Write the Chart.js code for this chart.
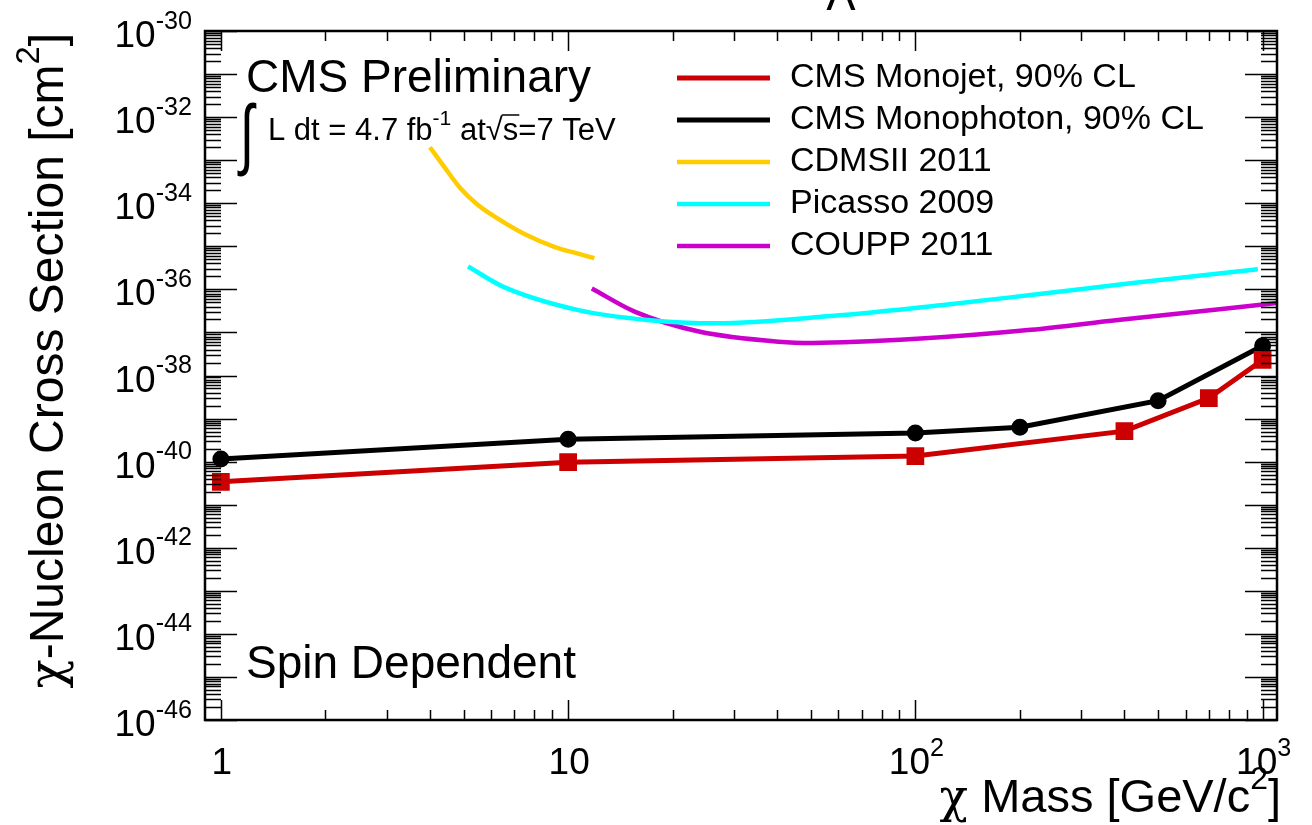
<!DOCTYPE html>
<html>
<head>
<meta charset="utf-8">
<script src="https://cdn.jsdelivr.net/npm/chart.js@4.4.1/dist/chart.umd.min.js"></script>
<style>
  html, body { margin: 0; padding: 0; background: #fff; }
  #wrap { width: 1312px; height: 825px; }
</style>
</head>
<body>
<div id="wrap"><canvas id="chart" width="1312" height="825"></canvas></div>
<script>
// chi mass [GeV/c^2] vs. spin-dependent chi-nucleon cross section limits [cm^2]
const monojetMass = [1, 10, 100, 400, 700, 1000];
const monojetXsec = [3.4e-41, 9.7e-41, 1.35e-40, 5.1e-40, 3.0e-39, 2.3e-38];
const monophotonMass = [1, 10, 100, 200, 500, 1000];
const monophotonXsec = [1.15e-40, 3.3e-40, 4.6e-40, 6.3e-40, 2.6e-39, 4.9e-38];
const cdmsMass = [4.0, 4.42, 4.88, 5.5, 6.36, 7.51, 9.16, 10.8, 11.9];
const cdmsXsec = [2.0e-33, 6.6e-34, 2.3e-34, 9.1e-35, 4.1e-35, 1.9e-35, 9.6e-36, 6.6e-36, 5.3e-36];
const picassoMass = [5.15, 6.49, 10.7, 16.9, 26.7, 57.1, 122, 215, 429, 969];
const picassoXsec = [3.4e-36, 1.16e-36, 3.3e-37, 1.95e-37, 1.63e-37, 2.4e-37, 4.4e-37, 7.4e-37, 1.42e-36, 2.95e-36];
const couppMass = [11.7, 15.6, 23.8, 40.4, 50.6, 101, 215, 383, 1100];
const couppXsec = [1.05e-36, 3.0e-37, 1.05e-37, 6.1e-38, 5.7e-38, 7.1e-38, 1.15e-37, 1.95e-37, 4.8e-37];

const seriesLabels = ['CMS Monojet, 90% CL', 'CMS Monophoton, 90% CL', 'CDMSII 2011', 'Picasso 2009', 'COUPP 2011'];

// axis ticks
const xTickValues = [1, 10, 100, 1000];
const xTickLabels = [['1', ''], ['10', ''], ['10', '2'], ['10', '3']];
const yTickValues = [1e-30, 1e-32, 1e-34, 1e-36, 1e-38, 1e-40, 1e-42, 1e-44, 1e-46];
const yTickExponents = ['-30', '-32', '-34', '-36', '-38', '-40', '-42', '-44', '-46'];

const FONT = '"Liberation Sans", Arial, Helvetica, sans-serif';
const GREEK = '"DejaVu Serif", "Liberation Serif", serif';
const font = (px, fam) => px + 'px ' + (fam || FONT);

function toPoints(xs, ys) {
  return xs.map((x, i) => ({ x: x, y: ys[i] }));
}

// text with optional superscripts: parts = [[text, isSup, family], ...]
function drawRich(ctx, parts, x, y, size, align) {
  const supSize = size * 0.68;
  let w = 0;
  parts.forEach(([t, sup, fam]) => {
    ctx.font = font(sup ? supSize : size, fam);
    w += ctx.measureText(t).width;
  });
  let cx = align === 'right' ? x - w : align === 'center' ? x - w / 2 : x;
  ctx.textAlign = 'left';
  ctx.textBaseline = 'alphabetic';
  parts.forEach(([t, sup, fam]) => {
    ctx.font = font(sup ? supSize : size, fam);
    ctx.fillText(t, cx, sup ? y - size * 0.5 : y);
    cx += ctx.measureText(t).width;
  });
  return w;
}

const rootStyle = {
  id: 'rootStyle',
  afterDraw(chart) {
    const ctx = chart.ctx;
    const xs = chart.scales.x, ys = chart.scales.y;
    const a = chart.chartArea;
    ctx.save();
    ctx.fillStyle = '#000';
    ctx.strokeStyle = '#000';

    // frame
    ctx.lineWidth = 2.5;
    ctx.strokeRect(a.left, a.top, a.right - a.left, a.bottom - a.top);

    // ticks, inside on all four sides
    ctx.lineWidth = 1.5;
    ctx.beginPath();
    for (let d = -1; d <= 3; d++) {
      for (let m = 1; m <= 9; m++) {
        const v = m * Math.pow(10, d);
        if (v <= xs.min || v >= xs.max) continue;
        const px = Math.round(xs.getPixelForValue(v)) + 0.5;
        const len = m === 1 ? 20 : 10;
        ctx.moveTo(px, a.bottom); ctx.lineTo(px, a.bottom - len);
        ctx.moveTo(px, a.top); ctx.lineTo(px, a.top + len);
      }
    }
    for (let d = -46; d <= -30; d++) {
      for (let m = 1; m <= 9; m++) {
        const v = m * Math.pow(10, d);
        if (v <= ys.min * 0.999 || v >= ys.max * 1.001) continue;
        const py = Math.round(ys.getPixelForValue(v)) + 0.5;
        const len = m === 1 ? 32 : 16;
        ctx.moveTo(a.left, py); ctx.lineTo(a.left + len, py);
        ctx.moveTo(a.right, py); ctx.lineTo(a.right - len, py);
      }
    }
    ctx.stroke();

    // tick labels
    xTickValues.forEach((v, i) => {
      const px = xs.getPixelForValue(v);
      const [base, exp] = xTickLabels[i];
      const parts = exp ? [[base, false], [exp, true]] : [[base, false]];
      drawRich(ctx, parts, px + 1, 774, 37, 'center');
    });
    yTickValues.forEach((v, i) => {
      const py = ys.getPixelForValue(v);
      drawRich(ctx, [['10', false], [yTickExponents[i], true]], 192, py + 16, 37, 'right');
    });

    // axis titles
    drawRich(ctx, [['\u03c7', false, GREEK], [' Mass [GeV/c', false], ['2', true], [']', false]], 1281, 812, 47, 'right');
    ctx.save();
    ctx.translate(63, 33);
    ctx.rotate(-Math.PI / 2);
    drawRich(ctx, [['\u03c7', false, GREEK], ['-Nucleon Cross Section [cm', false], ['2', true], [']', false]], 0, 0, 48, 'right');
    ctx.restore();

    // cut-off title at the very top
    ctx.font = font(44);
    ctx.textAlign = 'center';
    ctx.fillText('\u039b', 841, 10);

    // labels inside the frame
    ctx.textAlign = 'left';
    ctx.font = font(46);
    ctx.fillText('CMS Preliminary', 246, 92);
    ctx.fillText('Spin Dependent', 246, 678);

    ctx.save();
    ctx.translate(240, 160);
    ctx.scale(0.85, 1.3);
    ctx.font = font(60);
    ctx.fillText('\u222b', 0, 0);
    ctx.restore();
    let cx = 268;
    const lumiY = 140;
    cx += drawRich(ctx, [['L dt = 4.7 fb', false], ['-1', true], [' at', false]], cx, lumiY, 31, 'left');
    ctx.font = font(31);
    ctx.fillText('\u221a', cx, lumiY);
    cx += ctx.measureText('\u221a').width;
    const sW = ctx.measureText('s').width;
    ctx.fillText('s=7 TeV', cx, lumiY);
    ctx.lineWidth = 1.5;
    ctx.beginPath();
    ctx.moveTo(cx - 1, lumiY - 25); ctx.lineTo(cx + sW + 1, lumiY - 25);
    ctx.stroke();

    // legend
    const rows = [78, 120, 162, 204, 246];
    chart.data.datasets.forEach((ds, i) => {
      const y = rows[i];
      ctx.strokeStyle = ds.borderColor;
      ctx.lineWidth = ds.borderWidth;
      ctx.beginPath();
      ctx.moveTo(677, y); ctx.lineTo(770, y);
      ctx.stroke();
      ctx.fillStyle = '#000';
      ctx.font = font(34);
      ctx.textBaseline = 'middle';
      ctx.fillText(ds.label, 790, y);
      ctx.textBaseline = 'alphabetic';
    });
    ctx.restore();
  }
};

const ctx = document.getElementById('chart').getContext('2d');
new Chart(ctx, {
  type: 'line',
  data: {
    datasets: [
      {
        label: seriesLabels[0],
        data: toPoints(monojetMass, monojetXsec),
        borderColor: '#cc0000',
        backgroundColor: '#cc0000',
        borderWidth: 5,
        pointStyle: 'rect',
        pointRadius: 9,
        tension: 0,
      },
      {
        label: seriesLabels[1],
        data: toPoints(monophotonMass, monophotonXsec),
        borderColor: '#000000',
        backgroundColor: '#000000',
        borderWidth: 5,
        pointStyle: 'circle',
        pointRadius: 6,
        tension: 0,
      },
      {
        label: seriesLabels[2],
        data: toPoints(cdmsMass, cdmsXsec),
        borderColor: '#ffcc00',
        borderWidth: 4.5,
        pointRadius: 0,
        cubicInterpolationMode: 'monotone',
      },
      {
        label: seriesLabels[3],
        data: toPoints(picassoMass, picassoXsec),
        borderColor: '#00ffff',
        borderWidth: 4.5,
        pointRadius: 0,
        cubicInterpolationMode: 'monotone',
      },
      {
        label: seriesLabels[4],
        data: toPoints(couppMass, couppXsec),
        borderColor: '#cc00cc',
        borderWidth: 4.5,
        pointRadius: 0,
        cubicInterpolationMode: 'monotone',
      },
    ],
  },
  options: {
    responsive: false,
    animation: false,
    devicePixelRatio: 1,
    layout: { padding: { left: 205, top: 31, right: 35, bottom: 105 } },
    scales: {
      x: { type: 'logarithmic', min: 0.9, max: 1100, display: false },
      y: { type: 'logarithmic', min: 1e-46, max: 1e-30, display: false },
    },
    plugins: {
      legend: { display: false },
      tooltip: { enabled: false },
    },
  },
  plugins: [rootStyle],
});
</script>
</body>
</html>
